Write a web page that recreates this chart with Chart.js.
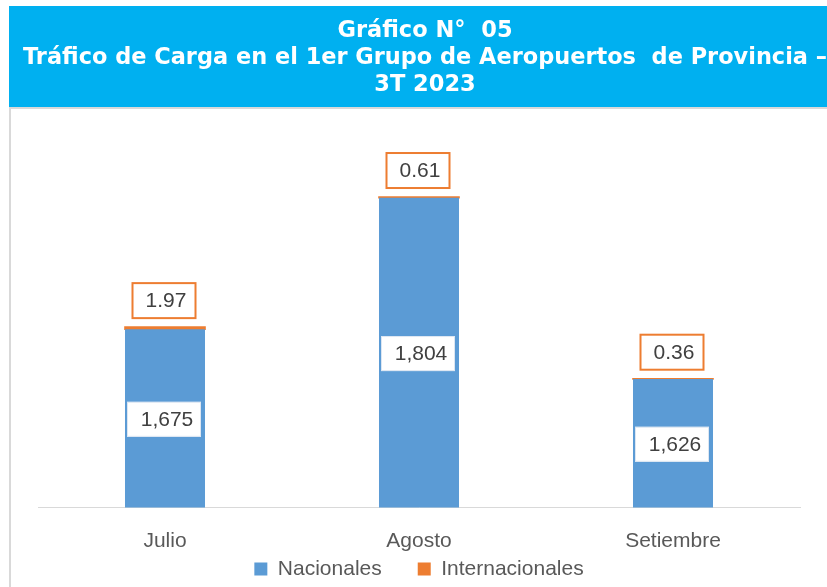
<!DOCTYPE html>
<html>
<head>
<meta charset="utf-8">
<script src="https://cdn.jsdelivr.net/npm/chart.js@4.4.1/dist/chart.umd.min.js"></script>
<style>
  html, body { margin: 0; padding: 0; background: #ffffff; }
  #wrap { position: relative; width: 827px; height: 587px; }
</style>
</head>
<body>
<div id="wrap"><canvas id="c" width="827" height="587"></canvas></div>
<script>
// ---- data ----
const categories = ['Julio', 'Agosto', 'Setiembre'];
const nacionales = [1675, 1804, 1626];
const internacionales = [1.97, 0.61, 0.36];
const seriesNames = ['Nacionales', 'Internacionales'];
const titleLines = ['Gráfico N°  05', 'Tráfico de Carga en el 1er Grupo de Aeropuertos  de Provincia –', '3T 2023'];
const yMin = 1500;
const yMax = 1880;

const BLUE = '#5B9BD5';
const ORANGE = '#ED7D31';
const TEXT = '#404040';
const AXTEXT = '#595959';

Chart.defaults.font.family = "'Liberation Sans', Arial, sans-serif";

const bandPlugin = {
  id: 'band',
  beforeDraw(chart) {
    const ctx = chart.ctx;
    ctx.save();
    ctx.fillStyle = '#ffffff';
    ctx.fillRect(0, 0, chart.width, chart.height);
    ctx.fillStyle = '#00B0F0';
    ctx.fillRect(9, 6, chart.width - 9, 101);
    ctx.fillStyle = '#D9D9D9';
    ctx.fillRect(9, 107, chart.width - 9, 2);
    ctx.fillRect(9, 107, 2, chart.height - 107);
    ctx.restore();
  }
};

const labelPlugin = {
  id: 'boxLabels',
  afterDatasetsDraw(chart) {
    const ctx = chart.ctx;
    const area = chart.chartArea;
    ctx.save();
    ctx.font = "21px 'Liberation Sans', Arial, sans-serif";
    ctx.textAlign = 'center';
    ctx.textBaseline = 'middle';
    const m0 = chart.getDatasetMeta(0);
    m0.data.forEach((el, i) => {
      const w = el.width - 6, h = 35;
      const cx = el.x - 1;
      const base = Math.min(el.base, area.bottom);
      const cy = (el.y + base) / 2 + 1;
      ctx.fillStyle = '#ffffff';
      ctx.fillRect(cx - w / 2, cy - h / 2, w, h);
      ctx.strokeStyle = '#DCE6F2';
      ctx.lineWidth = 1;
      ctx.strokeRect(cx - w / 2 + 0.5, cy - h / 2 + 0.5, w - 1, h - 1);
      ctx.fillStyle = TEXT;
      ctx.fillText(nacionales[i].toLocaleString('en-US'), cx + 3, cy + 1);
    });
    const m1 = chart.getDatasetMeta(1);
    m1.data.forEach((el, i) => {
      const w = 65, h = 37;
      const cx = el.x - 1;
      const bottom = el.y - 8;
      const cy = bottom - h / 2;
      ctx.fillStyle = '#ffffff';
      ctx.fillRect(cx - w / 2, cy - h / 2, w, h);
      ctx.strokeStyle = ORANGE;
      ctx.lineWidth = 2;
      ctx.strokeRect(cx - w / 2 + 1, cy - h / 2 + 1, w - 2, h - 2);
      ctx.fillStyle = TEXT;
      ctx.fillText(internacionales[i].toFixed(2), cx + 2, cy + 1);
    });
    ctx.restore();
  }
};

new Chart(document.getElementById('c'), {
  type: 'bar',
  data: {
    labels: categories,
    datasets: [
      { label: seriesNames[0], data: nacionales, backgroundColor: BLUE, borderWidth: 0,
        barPercentage: 0.315, categoryPercentage: 1.0 },
      { label: seriesNames[1], data: internacionales, backgroundColor: ORANGE, borderWidth: 0,
        barPercentage: 0.315, categoryPercentage: 1.0, inflateAmount: 0.8 }
    ]
  },
  options: {
    responsive: false,
    animation: false,
    devicePixelRatio: 1,
    layout: { padding: { left: 23, right: 0, top: 0, bottom: 6.5 } },
    plugins: {
      tooltip: { enabled: false },
      title: {
        display: true,
        text: titleLines,
        color: '#ffffff',
        font: { family: "'DejaVu Sans', sans-serif", size: 22.5, weight: 'bold', lineHeight: 1.21 },
        padding: { top: 17.5, bottom: 21 }
      },
      legend: {
        position: 'bottom',
        fullSize: false,
        maxHeight: 58,
        labels: {
          boxWidth: 13, boxHeight: 13, padding: 36,
          color: AXTEXT,
          font: { size: 21 }
        }
      }
    },
    scales: {
      x: {
        stacked: true,
        grid: { display: false, drawTicks: false },
        border: { display: true, color: '#D9D9D9', width: 1 },
        ticks: { color: AXTEXT, font: { size: 21 }, padding: 21 },
        afterFit(s) {
          s.height = 15;
          s._computeLabelArea = () => undefined;
        }
      },
      y: {
        stacked: true,
        min: yMin, max: yMax,
        grid: { display: false },
        border: { display: false },
        ticks: { display: false },
        afterFit(s) { s.width = 15; }
      },
      y2: {
        position: 'right',
        grid: { display: false },
        border: { display: false },
        ticks: { display: false },
        afterFit(s) { s.width = 27; }
      }
    }
  },
  plugins: [bandPlugin, labelPlugin]
});
</script>
</body>
</html>
